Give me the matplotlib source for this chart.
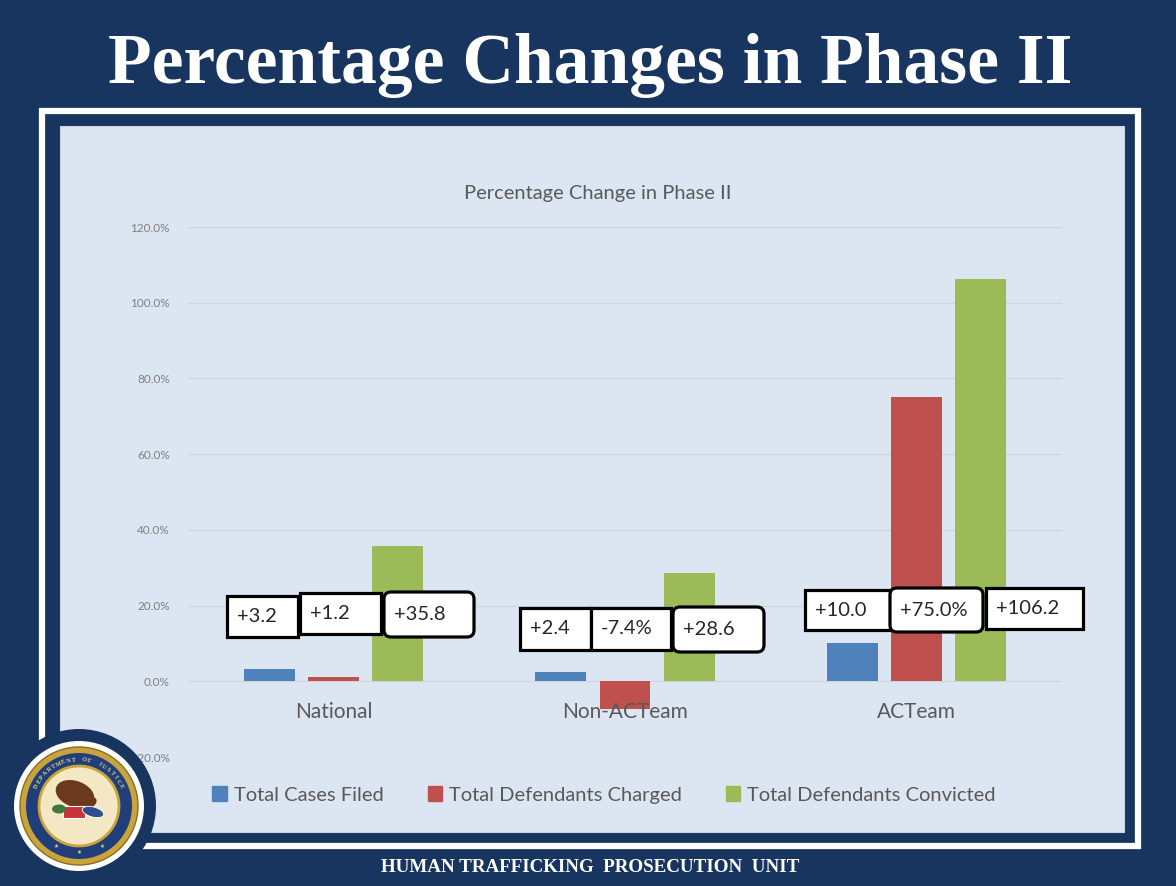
import numpy as np
import matplotlib
matplotlib.use("Agg")
import matplotlib.pyplot as plt
from matplotlib.patches import Rectangle, FancyBboxPatch, Circle, Ellipse, Patch

# =============================
# Data
# =============================
categories = ["National", "Non-ACTeam", "ACTeam"]
series_names = ["Total Cases Filed", "Total Defendants Charged", "Total Defendants Convicted"]
cases_filed = [3.2, 2.4, 10.0]
defendants_charged = [1.2, -7.4, 75.0]
defendants_convicted = [35.8, 28.6, 106.2]
box_labels = ["+3.2", "+1.2", "+35.8",
              "+2.4", "-7.4%", "+28.6",
              "+10.0", "+75.0%", "+106.2"]
y_ticks = [-20, 0, 20, 40, 60, 80, 100, 120]

# =============================
# Layout (pixels, origin top-left)
# =============================
W, H, DPI = 1176, 886, 100
NAVY = "#17355e"
PANEL = "#dce6f2"
GREY = "#595959"
colors = ["#4f81bd", "#c0504d", "#9bbb59"]
# left, top, right, bottom, rounded
boxes = [(227, 596, 298, 637, False), (300, 593, 381, 634, False), (384, 592, 474, 637, True),
         (520, 608, 591, 650, False), (591, 608, 671, 650, False), (673, 607, 764, 652, True),
         (805, 590, 890, 630, False), (890, 588, 983, 632, True), (986, 588, 1083, 629, False)]

chart_font = "Lato"
serif_font = "Liberation Serif"


def P(x, y):
    return (x / DPI, (H - y) / DPI)


fig = plt.figure(figsize=(W / DPI, H / DPI), dpi=DPI, facecolor=NAVY)
tr = fig.dpi_scale_trans

# frame and panel
fig.add_artist(Rectangle(P(42, 846), 1096 / DPI, 735 / DPI, transform=tr,
                         fill=False, ec="white", lw=4.5, zorder=-5))
fig.add_artist(Rectangle(P(60, 832), 1064 / DPI, 706 / DPI, transform=tr,
                         fc=PANEL, ec="#c8d3e0", lw=0.8, zorder=-4))

# slide titles
fig.text(590 / W, 1 - 66 / H, "Percentage Changes in Phase II", color="white",
         fontsize=51.5, fontweight="bold", family=serif_font, ha="center", va="center")
fig.text(590 / W, 1 - 867 / H, "HUMAN TRAFFICKING  PROSECUTION  UNIT", color="white",
         fontsize=13.7, fontweight="bold", family=serif_font, ha="center", va="center")
fig.text(598 / W, 1 - 194 / H, "Percentage Change in Phase II", color=GREY,
         fontsize=14.5, family=chart_font, ha="center", va="center")

# =============================
# Bars
# =============================
ax = fig.add_axes([188 / W, 1 - 757 / H, 874 / W, 530 / H])
ax.set_facecolor("none")
ax.set_xlim(-0.5, 2.5)
ax.set_ylim(-20, 120)

x = np.arange(len(categories))
step, width = 0.22, 0.175
for k, vals in enumerate([cases_filed, defendants_charged, defendants_convicted]):
    ax.bar(x + (k - 1) * step, vals, width=width, color=colors[k], zorder=2,
           label=series_names[k])

ax.set_yticks(y_ticks)
ax.set_yticklabels(["{:.1f}%".format(v) for v in y_ticks], fontsize=8.5,
                   color="#7f7f7f", family=chart_font)
ax.grid(axis="y", color="#d0d5dc", lw=0.9, zorder=0)
ax.tick_params(length=0, pad=13)
ax.set_xticks([])
for s in ax.spines.values():
    s.set_visible(False)

for i, c in enumerate(categories):
    ax.annotate(c, (i, 0), xytext=(0, -31), textcoords="offset pixels",
                ha="center", va="center", fontsize=15, color=GREY, family=chart_font)

# =============================
# Annotation boxes
# =============================
for (l, t, r, b, rounded), lab in zip(boxes, box_labels):
    style = "round,pad=0,rounding_size=0.07" if rounded else "square,pad=0"
    fig.add_artist(FancyBboxPatch(P(l, b), (r - l) / DPI, (b - t) / DPI, boxstyle=style,
                                  transform=tr, fc="white", ec="black", lw=2.3, zorder=3))
    fig.text((l + 10) / W, 1 - ((t + b) / 2) / H, lab, fontsize=14.5, color="#262626",
             family=chart_font, ha="left", va="center", zorder=4)

# =============================
# Legend
# =============================
handles = [Patch(color=c) for c in colors]
fig.legend(handles, series_names, loc="center", bbox_to_anchor=(604 / W, 1 - 795 / H),
           ncol=3, frameon=False, handlelength=0.7, handleheight=0.7,
           handletextpad=0.35, columnspacing=2.2,
           prop={"family": chart_font, "size": 14.5}, labelcolor=GREY)

# =============================
# Seal
# =============================
cx, cy = 79, 806
fig.add_artist(Circle(P(cx, cy), 77 / DPI, transform=tr, fc=NAVY, ec="none", zorder=5))
fig.add_artist(Circle(P(cx, cy), 65 / DPI, transform=tr, fc="white", ec="none", zorder=5))
fig.add_artist(Circle(P(cx, cy), 59 / DPI, transform=tr, fc="#c9a33c", ec="#8a6d1e", lw=1, zorder=5))
fig.add_artist(Circle(P(cx, cy), 53 / DPI, transform=tr, fc="#203f7a", ec="none", zorder=5))
fig.add_artist(Circle(P(cx, cy), 40 / DPI, transform=tr, fc="#f4e7c3", ec="#c9a33c", lw=2, zorder=5))
fig.add_artist(Ellipse(P(cx - 4, cy - 12), 40 / DPI, 26 / DPI, angle=-20, transform=tr,
                       fc="#6b3a1e", ec="none", zorder=6))
fig.add_artist(Ellipse(P(cx + 8, cy - 3), 20 / DPI, 12 / DPI, angle=20, transform=tr,
                       fc="#6b3a1e", ec="none", zorder=6))
fig.add_artist(Rectangle(P(cx - 16, cy + 12), 22 / DPI, 12 / DPI, transform=tr,
                         fc="#c8323c", ec="white", lw=0.8, zorder=6))
fig.add_artist(Ellipse(P(cx + 14, cy + 6), 22 / DPI, 10 / DPI, angle=-15, transform=tr,
                       fc="#2b4f8f", ec="white", lw=0.6, zorder=6))
fig.add_artist(Ellipse(P(cx - 20, cy + 3), 14 / DPI, 9 / DPI, transform=tr,
                       fc="#3c7a3c", ec="none", zorder=6))
word = "DEPARTMENT OF JUSTICE"
for j, ch in enumerate(word):
    ang = np.deg2rad(155 - j * 130 / (len(word) - 1))
    px, py = cx + 46.5 * np.cos(ang), cy - 46.5 * np.sin(ang)
    fig.text(px / W, 1 - py / H, ch, fontsize=4.5, color="#e8cf7a", family=serif_font,
             fontweight="bold", ha="center", va="center",
             rotation=np.rad2deg(ang) - 90, zorder=7)
for a in [240, 270, 300]:
    ang = np.deg2rad(a)
    fig.text((cx + 46.5 * np.cos(ang)) / W, 1 - (cy - 46.5 * np.sin(ang)) / H, "\u2605",
             fontsize=4, color="#e8cf7a", ha="center", va="center", zorder=7)

fig.savefig("out.png", dpi=DPI, facecolor=NAVY)
